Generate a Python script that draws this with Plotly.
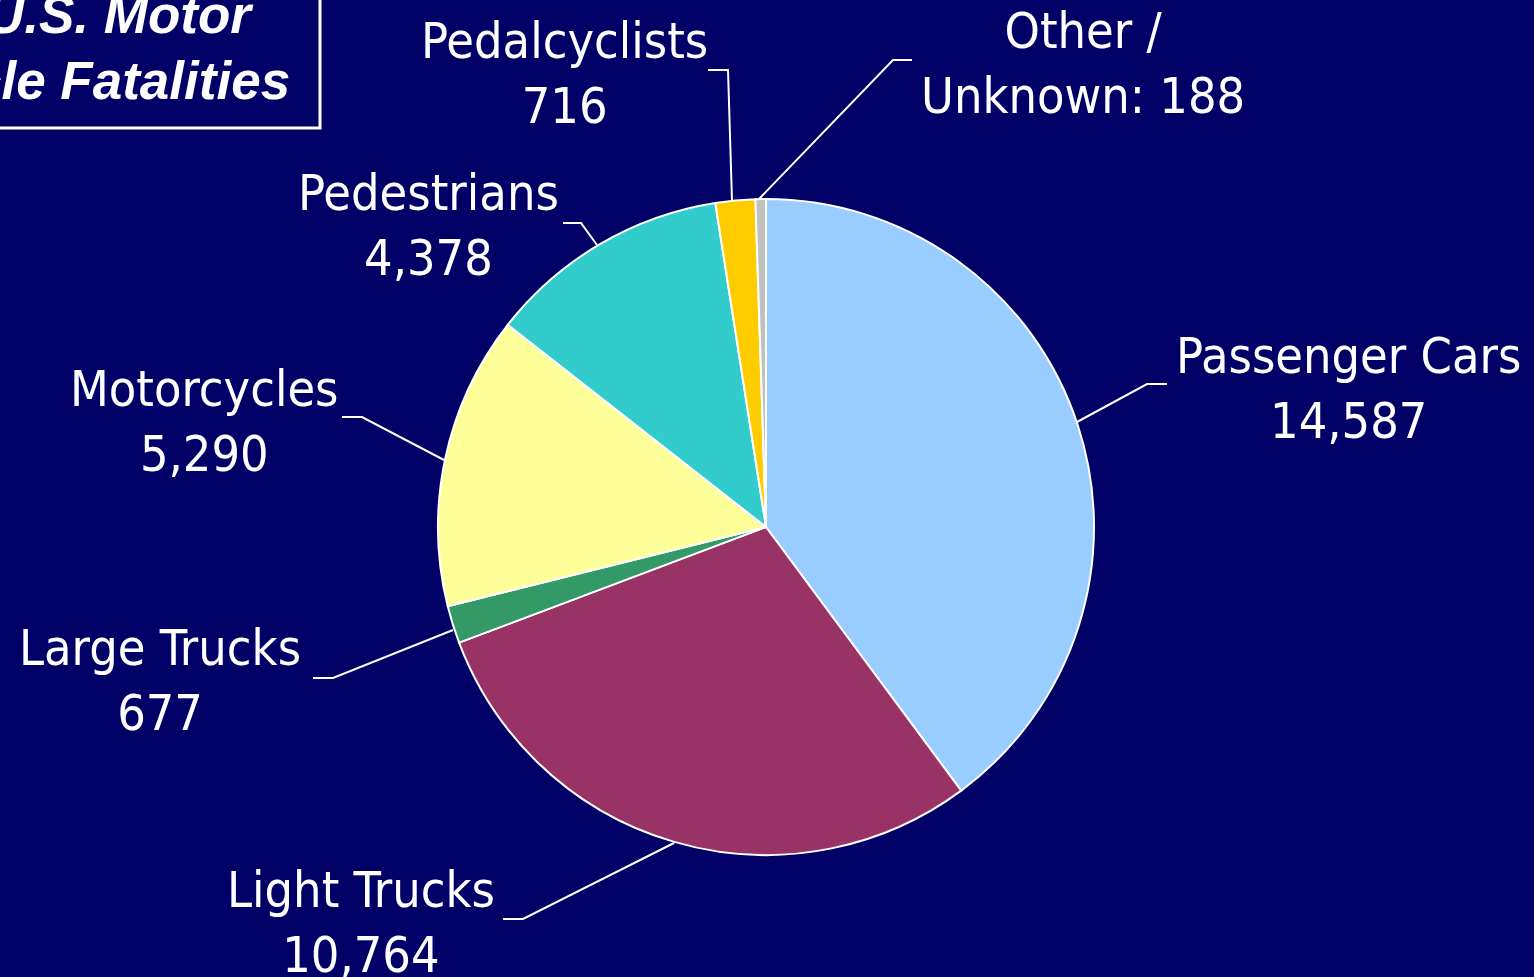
"""
Motor vehicle fatalities by vehicle / person type - pie chart
"""

import plotly.graph_objects as go

# Data
categories = ["Passenger Cars", "Light Trucks", "Large Trucks", "Motorcycles",
              "Pedestrians", "Pedalcyclists", "Other / Unknown"]
fatalities = [14587, 10764, 677, 5290, 4378, 716, 188]
slice_colors = ["#99CCFF", "#993366", "#339966", "#FFFF99",
                "#33CCCC", "#FFCC00", "#C0C0C0"]

# label text shown next to each slice
label_text = ["Passenger Cars<br>14,587", "Light Trucks<br>10,764", "Large Trucks<br>677",
              "Motorcycles<br>5,290", "Pedestrians<br>4,378", "Pedalcyclists<br>716",
              "Other /<br>Unknown: 188"]

W, H = 1534, 977
BG = "#000066"


def px(x):
    return x / W


def py(y):
    return 1 - y / H


# pie geometry (pixels)
cx, cy, r = 766, 527, 328

# label centres (pixels)
label_pos = [(1348, 388), (361, 922), (160, 680), (204, 421),
             (428, 226), (564, 74), (1083, 64)]

# leader lines: slice edge -> elbow -> end near the label (pixels)
leaders = [
    [(1077, 422), (1147, 384), (1167, 384)],
    [(674, 843), (523, 919), (503, 919)],
    [(453, 630), (333, 678), (313, 678)],
    [(444, 460), (362, 417), (342, 417)],
    [(597, 245), (581, 223), (563, 223)],
    [(732, 201), (728, 70), (708, 70)],
    [(759, 199), (893, 60), (912, 60)],
]

fig = go.Figure()

fig.add_trace(go.Pie(
    labels=categories,
    values=fatalities,
    sort=False,
    direction="clockwise",
    rotation=0,
    textinfo="none",
    hoverinfo="label+value",
    marker=dict(colors=slice_colors, line=dict(color="white", width=2)),
    domain=dict(x=[px(cx - r), px(cx + r)], y=[py(cy + r), py(cy - r)]),
    showlegend=False,
))

label_font = dict(family="DejaVu Sans Condensed, DejaVu Sans, sans-serif", size=50, color="white")

for txt, (lx, ly) in zip(label_text, label_pos):
    fig.add_annotation(x=px(lx), y=py(ly), xref="paper", yref="paper",
                       text=txt, showarrow=False, align="center",
                       xanchor="center", yanchor="middle", font=label_font)

for pts in leaders:
    path = "M " + " L ".join(f"{px(x)},{py(y)}" for x, y in pts)
    fig.add_shape(type="path", path=path, xref="paper", yref="paper",
                  line=dict(color="white", width=2))

# title box, partly cut off at the top left
fig.add_shape(type="rect", xref="paper", yref="paper",
              x0=px(-20), x1=px(320), y0=py(128), y1=py(-20),
              line=dict(color="white", width=3), fillcolor=BG, layer="below")

title_font = dict(family="Liberation Sans, Arial, sans-serif", size=53, color="white")
fig.add_annotation(x=px(256), y=py(14), xref="paper", yref="paper",
                   text="<b><i>U.S. Motor</i></b>", showarrow=False,
                   xanchor="right", yanchor="middle", font=title_font)
fig.add_annotation(x=px(292), y=py(80), xref="paper", yref="paper",
                   text="<b><i>Vehicle Fatalities</i></b>", showarrow=False,
                   xanchor="right", yanchor="middle", font=title_font)

fig.update_layout(
    width=W, height=H,
    margin=dict(l=0, r=0, t=0, b=0),
    paper_bgcolor=BG,
    plot_bgcolor=BG,
)

fig.write_html("out.html", config={"displayModeBar": False},
               post_script="document.body.style.margin='0';")
